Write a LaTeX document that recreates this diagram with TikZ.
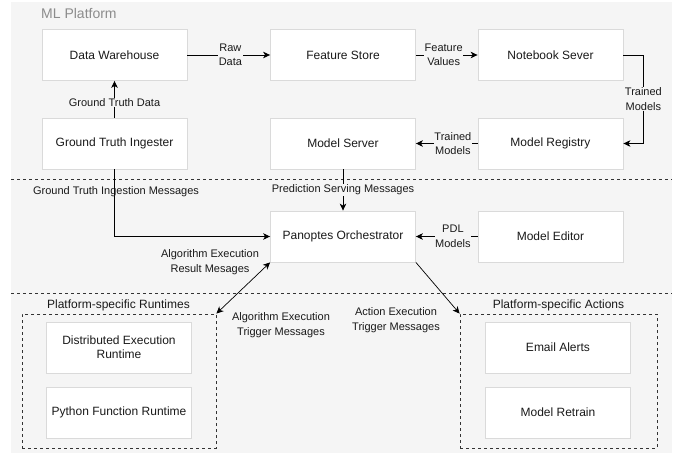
\documentclass[tikz,border=0pt]{standalone}
\usepackage{fontspec}
\setmainfont{Liberation Sans}
\usetikzlibrary{arrows.meta}
\definecolor{bgc}{HTML}{F5F5F5}
\definecolor{bdr}{HTML}{DADADA}
\definecolor{txt}{HTML}{1A1A1A}
\definecolor{ttl}{HTML}{8C8C8C}
\definecolor{dsh}{HTML}{333333}
\begin{document}
\begin{tikzpicture}[x=1pt,y=-1pt,
  blk/.style={draw=bdr, fill=white, line width=0.8pt, minimum width=145pt, minimum height=51pt,
    inner sep=0pt, align=center, font=\fontsize{12}{14}\selectfont, text=txt},
  lbl/.style={fill=bgc, inner sep=0.6pt, align=center, font=\fontsize{11}{14.5}\selectfont, text=txt},
  txtlbl/.style={inner sep=0pt, align=center, font=\fontsize{11}{14.5}\selectfont, text=txt},
  grplbl/.style={inner sep=0pt, align=center, font=\fontsize{12}{14}\selectfont, text=txt},
  tip/.style={Stealth[length=7pt,width=6.5pt,inset=2pt]},
  arr/.style={draw=black, line width=0.9pt, -{Stealth[length=7pt,width=6.5pt,inset=2pt]}},
  darr/.style={draw=black, line width=0.7pt, {Stealth[length=7pt,width=6.5pt,inset=2pt]}-{Stealth[length=7pt,width=6.5pt,inset=2pt]}},
  tarr/.style={draw=black, line width=0.7pt, -{Stealth[length=7pt,width=6.5pt,inset=2pt]}},
  sepline/.style={draw=dsh, line width=0.8pt, dash pattern=on 3pt off 3pt},
  grp/.style={draw=dsh, line width=0.8pt, dash pattern=on 3pt off 3pt, minimum height=134pt, inner sep=0pt}
]
\useasboundingbox (0,0) rectangle (683,460);
\fill[bgc] (11,2) rectangle (672,453);

% title
\node[anchor=west, inner sep=0pt, text=ttl, font=\fontsize{14}{16}\selectfont] (title) at (41,13) {ML Platform};

% separators
\coordinate (s1a) at (11,179);
\coordinate (s1b) at (672,179);
\coordinate (s2a) at (11,293);
\coordinate (s2b) at (672,293);
\draw[sepline] (s1a) -- (s1b);
\draw[sepline] (s2a) -- (s2b);

% ML platform nodes
\node[blk] (dw)  at (114.5,55)  {Data Warehouse};
\node[blk] (fs)  at (343,55)    {Feature Store};
\node[blk] (ns)  at (550.5,55)  {Notebook Sever};
\node[blk] (gti) at (114.5,143.5) {Ground Truth Ingester};
\node[blk] (ms)  at (343,143.5)   {Model Server};
\node[blk] (mr)  at (550.5,143.5) {Model Registry};

% middle
\node[blk] (po) at (343,236.5)   {Panoptes Orchestrator};
\node[blk] (me) at (550.5,236.5) {Model Editor};

% groups
\node[grp, minimum width=194pt] (rt)  at (119,381)   {};
\node[grp, minimum width=197pt] (act) at (558.5,381) {};
\node[grplbl] (rtl)  at (118.5,305) {Platform-specific Runtimes};
\node[grplbl] (actl) at (558.5,305) {Platform-specific Actions};

\node[blk] (der) at (119,347.5)   {Distributed Execution\\Runtime};
\node[blk] (pfr) at (119,412.5)   {Python Function Runtime};
\node[blk] (ea)  at (558,347.5)   {Email Alerts};
\node[blk] (mrt) at (558,412.5)   {Model Retrain};

% connectors
\draw[arr] (dw) -- node[lbl, pos=0.52] {Raw\\Data} (fs);
\draw[arr] (fs) -- node[lbl, pos=0.45] {Feature\\Values} (ns);
\draw[arr] (ns.east) -- ++(20,0) |- node[lbl, pos=0.25] {Trained\\Models} (mr.east);
\draw[arr] (mr) -- node[lbl, pos=0.4] {Trained\\Models} (ms);
\draw[arr] (gti) -- node[lbl, pos=0.42] {Ground Truth Data} (dw);
\draw[arr] (gti.south) |- (po.west);
\node[txtlbl] (gtim) at (116,192) {Ground Truth Ingestion Messages};
\draw[arr] (ms) -- node[lbl] {Prediction Serving Messages} (po);
\draw[arr] (me) -- node[lbl, pos=0.4] {PDL\\Models} (po);
\draw[darr] (rt.north east) -- (po.south west);
\draw[tarr] (po.south east) -- (act.north west);
\node[txtlbl] (aer) at (210,262) {Algorithm Execution\\Result Mesages};
\node[txtlbl] (aet) at (281,325) {Algorithm Execution\\Trigger Messages};
\node[txtlbl] (acx) at (396,320) {Action Execution\\Trigger Messages};
\end{tikzpicture}
\end{document}
